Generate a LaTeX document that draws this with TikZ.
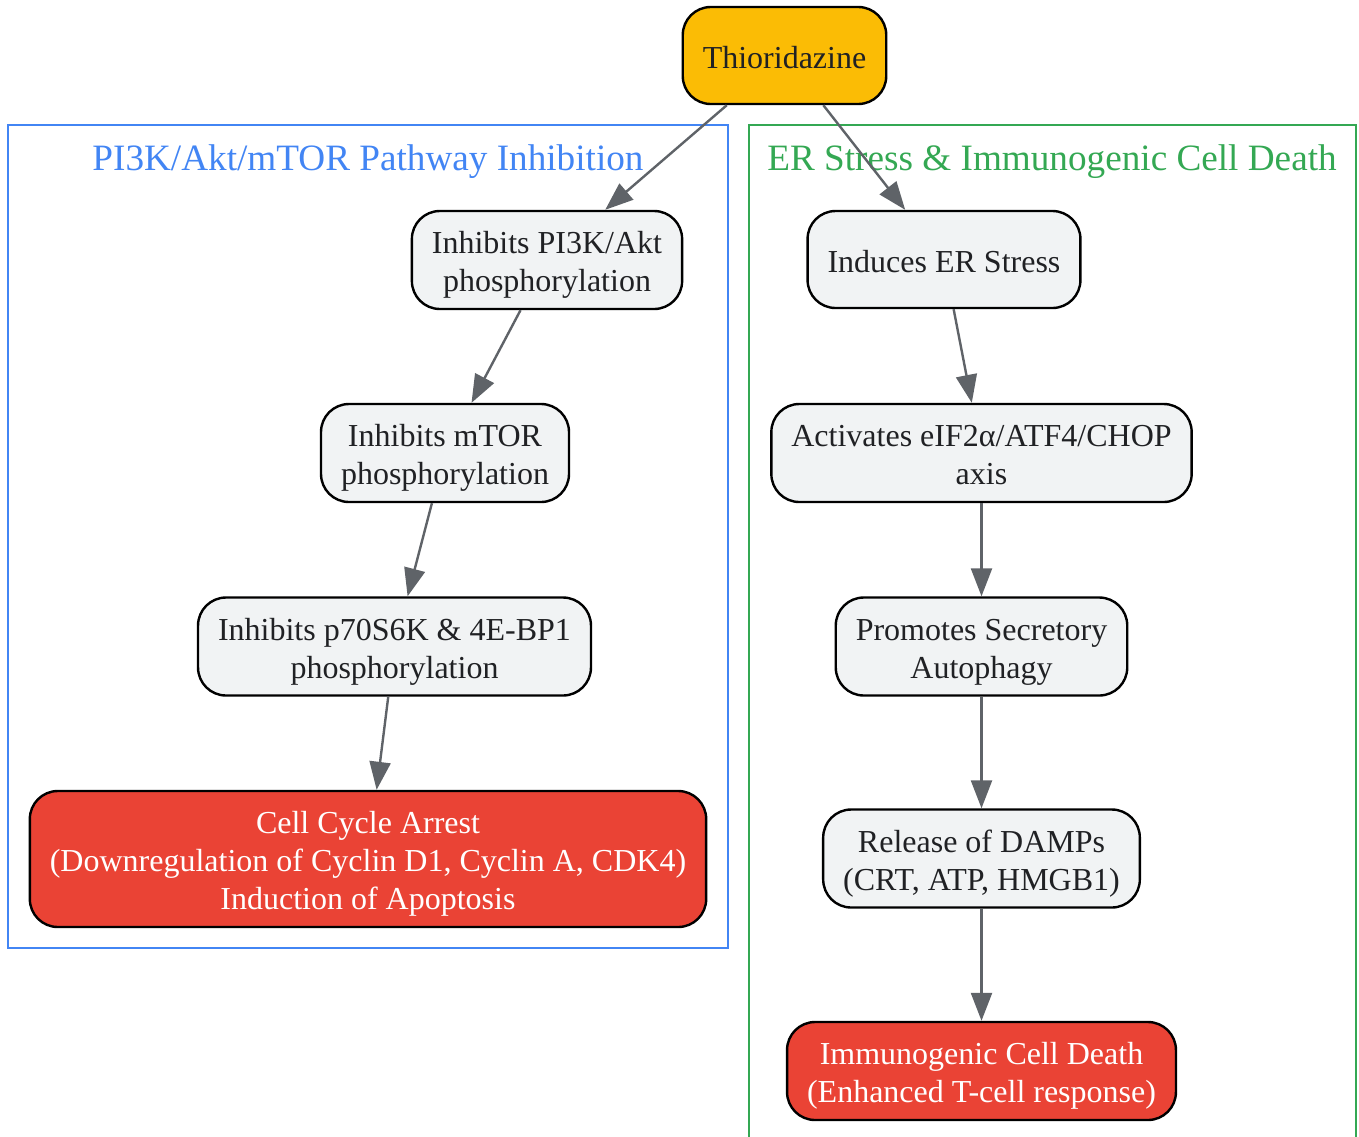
\documentclass[tikz,border=0pt]{standalone}
\usepackage{fontspec}
\setmainfont{Liberation Serif}
\usetikzlibrary{arrows.meta}
\definecolor{thioyellow}{HTML}{FBBC05}
\definecolor{deathred}{HTML}{EA4335}
\definecolor{stepgray}{HTML}{F1F3F4}
\definecolor{pathblue}{HTML}{4285F4}
\definecolor{pathgreen}{HTML}{34A853}
\definecolor{inkdark}{HTML}{202124}
\definecolor{edgegray}{HTML}{5F6368}
\tikzset{
	stepbox/.style={draw=black, line width=1.2pt, rounded corners=14pt, fill=stepgray, text=inkdark,
		align=center, inner xsep=10pt, inner ysep=5.25pt, minimum height=48.5pt,
		text height=16pt, text depth=3.5pt, font=\fontsize{16}{19}\selectfont},
	twolines/.style={text height=35pt},
	threelines/.style={text height=54pt},
	drugbox/.style={stepbox, fill=thioyellow},
	endbox/.style={stepbox, fill=deathred, text=white},
	cluster/.style={line width=1pt},
	clustertitle/.style={font=\fontsize{18.6}{22}\selectfont},
	flow/.style={draw=edgegray, line width=1.2pt, -{Triangle[length=14pt,width=10.5pt]}}
}
\begin{document}
\begin{tikzpicture}[x=0.5pt, y=-0.5pt]
	\useasboundingbox (0,0) rectangle (1359,1136);
	\clip (0,0) rectangle (1359,1136);
	% clusters
	\draw[cluster, pathblue] (8,125) rectangle (728,948);
	\draw[cluster, pathgreen] (749,125) rectangle (1356,1160);
	\node[clustertitle, text=pathblue] (t1) at (368,162) {PI3K/Akt/mTOR Pathway Inhibition};
	\node[clustertitle, text=pathgreen] (t2) at (1052,162) {ER Stress \& Immunogenic Cell Death};
	% nodes
	\node[drugbox] (thio) at (784.5,55.5) {Thioridazine};
	\node[stepbox, twolines] (pi3k) at (547,260) {Inhibits PI3K/Akt\\phosphorylation};
	\node[stepbox, twolines] (mtor) at (445,453) {Inhibits mTOR\\phosphorylation};
	\node[stepbox, twolines] (p70) at (394.5,646.5) {Inhibits p70S6K \& 4E-BP1\\phosphorylation};
	\node[endbox, threelines] (arrest) at (368,859) {Cell Cycle Arrest\\(Downregulation of Cyclin D1, Cyclin A, CDK4)\\Induction of Apoptosis};
	\node[stepbox] (er) at (944,259.5) {Induces ER Stress};
	\node[stepbox, twolines] (eif) at (981.5,453) {Activates eIF2α/ATF4/CHOP\\axis};
	\node[stepbox, twolines] (auto) at (981.5,646.5) {Promotes Secretory\\Autophagy};
	\node[stepbox, twolines] (damp) at (981.5,858.5) {Release of DAMPs\\(CRT, ATP, HMGB1)};
	\node[endbox, twolines] (icd) at (981.5,1071) {Immunogenic Cell Death\\(Enhanced T-cell response)};
	% edges
	\draw[flow] (thio) -- (pi3k);
	\draw[flow] (thio) -- (er);
	\draw[flow] (pi3k) -- (mtor);
	\draw[flow] (mtor) -- (p70);
	\draw[flow] (p70) -- (arrest);
	\draw[flow] (er) -- (eif);
	\draw[flow] (eif) -- (auto);
	\draw[flow] (auto) -- (damp);
	\draw[flow] (damp) -- (icd);
\end{tikzpicture}
\end{document}
